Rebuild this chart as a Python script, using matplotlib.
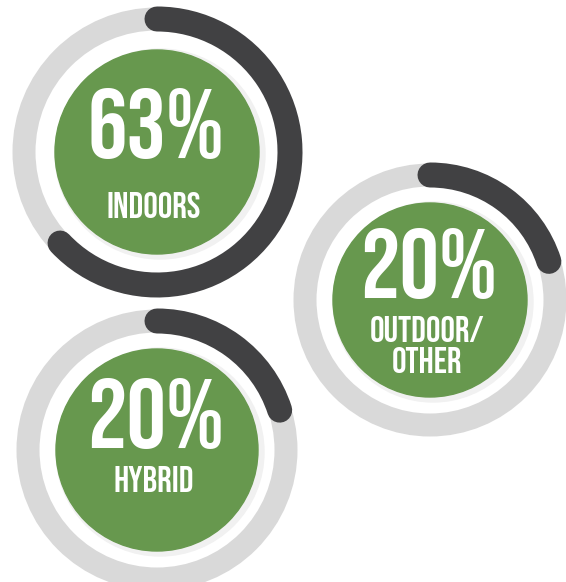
import matplotlib
matplotlib.use("Agg")
import matplotlib.pyplot as plt
from matplotlib.patches import Circle, Arc

# Data
percent_values = [63, 20, 20]
percent_labels = ["63%", "20%", "20%"]
category_labels = ["INDOORS", "OUTDOOR/\nOTHER", "HYBRID"]

# Layout (pixel coordinates, y down)
centers = [(157, 152), (430, 300), (157, 450)]
ring_radius = [133, 125, 129]
green_radius = [102, 97, 101]
pct_baseline = [158, 298, 448]
label_baseline = [218, 342, 492]

GREY = "#d9d9d9"
DARK = "#414143"
GREEN = "#67984e"
FONT = ["Bebas Neue", "DejaVu Sans"]

W, H, DPI = 566, 582, 100
fig = plt.figure(figsize=(W / DPI, H / DPI), dpi=DPI)
ax = fig.add_axes([0, 0, 1, 1])
ax.set_xlim(0, W)
ax.set_ylim(H, 0)
ax.set_aspect("equal")
ax.axis("off")

px = 72 / DPI  # pixel -> points
ring_lw = 23 * px

for i, val in enumerate(percent_values):
    cx, cy = centers[i]
    r = ring_radius[i]
    # grey background ring
    ax.add_patch(Circle((cx, cy), r, fill=False, edgecolor=GREY, lw=ring_lw))
    # dark progress arc, clockwise from top (y axis is inverted)
    arc = Arc((cx, cy), 2 * r, 2 * r, theta1=-90, theta2=-90 + 360 * val / 100,
              edgecolor=DARK, lw=ring_lw + 2 * px)
    arc.set_capstyle("round")
    ax.add_patch(arc)
    # faint inner shadow ring
    ax.add_patch(Circle((cx + 3, cy + 2), green_radius[i] + 3, color="#f1f1f1", zorder=2))
    ax.add_patch(Circle((cx, cy), green_radius[i], color=GREEN, zorder=3))

    ax.text(cx - 1, pct_baseline[i], percent_labels[i], ha="center", va="baseline",
            color="white", fontsize=71, family=FONT, zorder=5)
    lines = category_labels[i].split("\n")
    base = label_baseline[i]
    for j, line in enumerate(lines):
        ax.text(cx - 3, base + j * 31, line, ha="center", va="baseline",
                color="white", fontsize=26, family=FONT, zorder=5)

fig.savefig("out.png", dpi=DPI, facecolor="white")
